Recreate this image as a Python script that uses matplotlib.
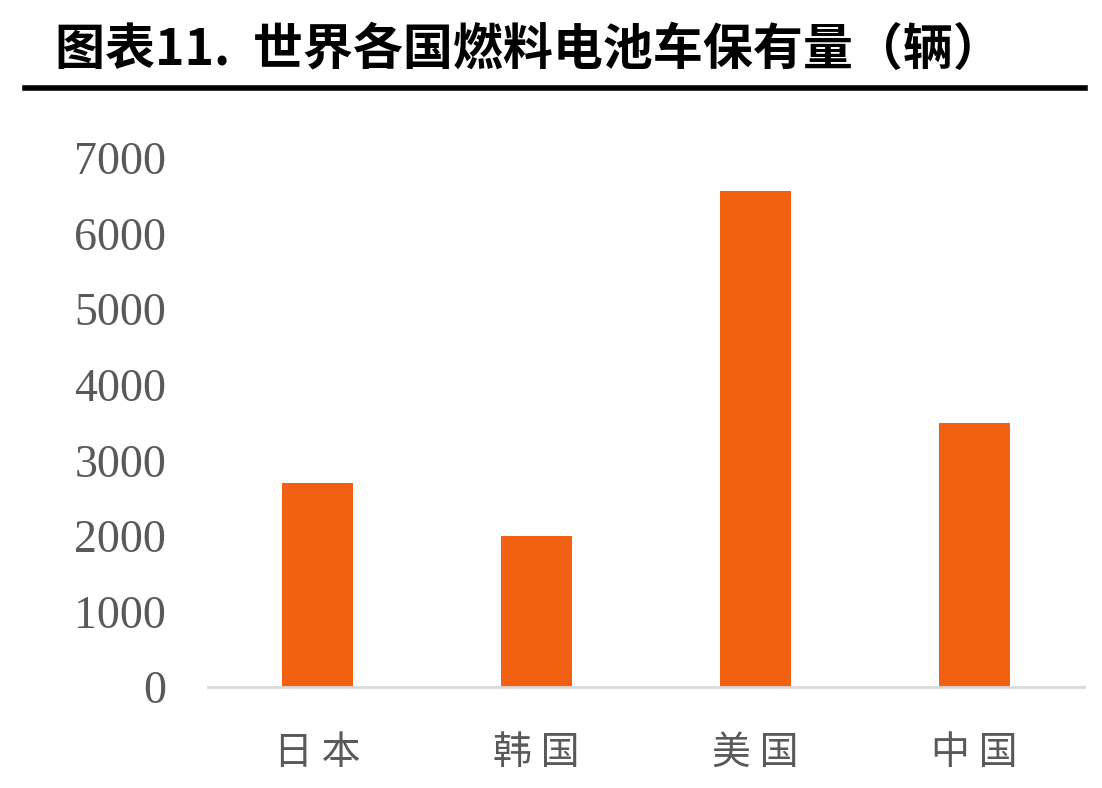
import matplotlib.pyplot as plt
import numpy as np

# 世界各国燃料电池车保有量
countries = ["日本", "韩国", "美国", "中国"]
vehicles = [2700, 2000, 6560, 3490]
yticks = [0, 1000, 2000, 3000, 4000, 5000, 6000, 7000]

fig = plt.figure(figsize=(11.02, 7.88), dpi=100)
ax = fig.add_axes([208 / 1102, 101 / 788, 876 / 1102, 529 / 788])

x = np.arange(len(countries))
ax.bar(x, vehicles, width=0.32, color="#F26012", zorder=2)

ax.set_xlim(-0.5, len(countries) - 0.5)
ax.set_ylim(0, 7000)
ax.set_yticks(yticks)
ax.set_yticklabels([str(v) for v in yticks], family="Liberation Serif",
                   fontsize=33, color="#595959")
ax.set_xticks(x)
ax.set_xticklabels([" ".join(c) for c in countries], family="Noto Sans CJK SC",
                   fontsize=28, color="#595959")
ax.tick_params(axis="both", length=0)
ax.tick_params(axis="y", pad=30)
ax.tick_params(axis="x", pad=33)

for s in ["top", "right", "left"]:
    ax.spines[s].set_visible(False)
ax.spines["bottom"].set_color("#D9D9D9")
ax.spines["bottom"].set_linewidth(2)

fig.text(55 / 1102, 1 - 50 / 788, "图表11.  世界各国燃料电池车保有量（辆）",
         family="Noto Sans CJK SC", fontweight="bold", fontsize=36,
         va="center", ha="left", color="black")
fig.add_artist(plt.Line2D([25 / 1102, 1085 / 1102], [1 - 88 / 788, 1 - 88 / 788],
                          color="black", linewidth=4))

fig.savefig("out.png", dpi=100)
